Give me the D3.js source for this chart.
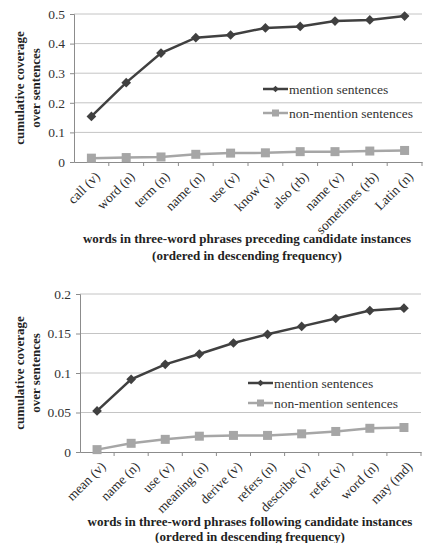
<!DOCTYPE html>
<html lang="en">
<head>
    <meta charset="UTF-8">
    <title>Cumulative coverage</title>
    <style>
        body { margin: 0; background: #fff; }
        text { font-family: "Liberation Serif", "DejaVu Serif", serif; }
    </style>
</head>
<body>
<script src="https://cdnjs.cloudflare.com/ajax/libs/d3/7.8.5/d3.min.js"></script>
<script>
    let w = 435, h = 543;

    // top panel: preceding words
    let preWords = ["call (v)", "word (n)", "term (n)", "name (n)", "use (v)", "know (v)",
        "also (rb)", "name (v)", "sometimes (rb)", "Latin (n)"];
    let preMention = [0.154, 0.268, 0.368, 0.420, 0.429, 0.453, 0.458, 0.476, 0.480, 0.493];
    let preNonMention = [0.013, 0.015, 0.017, 0.026, 0.030, 0.031, 0.035, 0.035, 0.037, 0.039];
    let preTicks = [0, 0.1, 0.2, 0.3, 0.4, 0.5];
    let preTitle = ["words in three-word phrases preceding candidate instances",
        "(ordered in descending frequency)"];

    // bottom panel: following words
    let folWords = ["mean (v)", "name (n)", "use (v)", "meaning (n)", "derive (v)", "refers (n)",
        "describe (v)", "refer (v)", "word (n)", "may (md)"];
    let folMention = [0.052, 0.092, 0.111, 0.124, 0.138, 0.149, 0.159, 0.169, 0.179, 0.182];
    let folNonMention = [0.003, 0.011, 0.016, 0.020, 0.021, 0.021, 0.023, 0.026, 0.030, 0.031];
    let folTicks = [0, 0.05, 0.1, 0.15, 0.2];
    let folTitle = ["words in three-word phrases following candidate instances",
        "(ordered in descending frequency)"];

    let seriesNames = ["mention sentences", "non-mention sentences"];

    let svg = d3.select("body")
        .append("svg")
        .attr("width", w)
        .attr("height", h);

    function panel(o) {
        let g = svg.append("g");

        let x = d3.scaleBand()
            .domain(o.words)
            .range([o.left, o.right])
            .padding(0);
        let y = d3.scaleLinear()
            .domain([0, o.max])
            .range([o.bottom, o.top]);
        let cx = d => x(d) + x.bandwidth() / 2;

        // gridlines
        g.selectAll(".grid")
            .data(o.ticks.slice(1))
            .enter()
            .append("line")
            .attr("x1", o.left)
            .attr("x2", o.right)
            .attr("y1", d => y(d))
            .attr("y2", d => y(d))
            .attr("stroke", "#c4c4c4")
            .attr("stroke-width", 1);

        // y axis
        let yAxis = g.append("g")
            .attr("transform", "translate(" + o.left + ",0)")
            .attr("font-family", "Liberation Serif")
            .call(d3.axisLeft(y).tickValues(o.ticks).tickSize(4).tickPadding(5)
                .tickFormat(d => d3.format("")(+d.toFixed(2))));
        yAxis.select(".domain").attr("stroke", "#8c8c8c");
        yAxis.selectAll(".tick line").attr("stroke", "#8c8c8c");
        yAxis.selectAll("text")
            .style("font-size", "13.5px")
            .style("font-family", "Liberation Serif")
            .attr("fill", "#333");

        // x axis
        let xAxis = g.append("g")
            .attr("transform", "translate(0," + o.bottom + ")")
            .call(d3.axisBottom(x).tickSize(0).tickFormat(""));
        xAxis.select(".domain").attr("stroke", "#8c8c8c");
        xAxis.selectAll(".bound")
            .data(o.words)
            .enter()
            .append("line")
            .attr("x1", d => x(d) + x.bandwidth())
            .attr("x2", d => x(d) + x.bandwidth())
            .attr("y1", 0)
            .attr("y2", 4)
            .attr("stroke", "#8c8c8c");

        g.selectAll(".xlab")
            .data(o.words)
            .enter()
            .append("text")
            .attr("transform", d => "translate(" + (cx(d) + 6) + "," + (o.bottom + 12) + ") rotate(-45)")
            .attr("text-anchor", "end")
            .attr("dy", "0.35em")
            .style("font-size", "13.5px")
            .attr("fill", "#2a2a2a")
            .text(d => d);

        // lines
        let line = d3.line()
            .x((d, i) => cx(o.words[i]))
            .y(d => y(d));

        g.append("path")
            .attr("d", line(o.non))
            .attr("fill", "none")
            .attr("stroke", "#a6a6a6")
            .attr("stroke-width", 2.5);
        g.selectAll(".sq")
            .data(o.non)
            .enter()
            .append("rect")
            .attr("x", (d, i) => cx(o.words[i]) - 4.5)
            .attr("y", d => y(d) - 4.5)
            .attr("width", 9)
            .attr("height", 9)
            .attr("fill", "#a6a6a6");

        g.append("path")
            .attr("d", line(o.mention))
            .attr("fill", "none")
            .attr("stroke", "#404040")
            .attr("stroke-width", 2.5);
        let diamond = d3.symbol().type(d3.symbolDiamond2).size(60);
        g.selectAll(".dm")
            .data(o.mention)
            .enter()
            .append("path")
            .attr("d", diamond)
            .attr("transform", (d, i) => "translate(" + cx(o.words[i]) + "," + y(d) + ")")
            .attr("fill", "#404040");

        // legend
        let lg = g.append("g");
        let legCol = ["#404040", "#a6a6a6"];
        seriesNames.forEach(function (s, i) {
            let ly = o.legY[i];
            lg.append("line")
                .attr("x1", o.legX)
                .attr("x2", o.legX + 25)
                .attr("y1", ly)
                .attr("y2", ly)
                .attr("stroke", legCol[i])
                .attr("stroke-width", 2.5);
            if (i === 0) {
                lg.append("path")
                    .attr("d", d3.symbol().type(d3.symbolDiamond2).size(28))
                    .attr("transform", "translate(" + (o.legX + 12.5) + "," + ly + ")")
                    .attr("fill", legCol[i]);
            } else {
                lg.append("rect")
                    .attr("x", o.legX + 9)
                    .attr("y", ly - 3.5)
                    .attr("width", 7)
                    .attr("height", 7)
                    .attr("fill", legCol[i]);
            }
            lg.append("text")
                .attr("x", o.legX + 26)
                .attr("y", ly)
                .attr("dy", "0.35em")
                .style("font-size", "13.5px")
                .attr("fill", "#333")
                .text(s);
        });

        // y title
        let ty = (o.top + o.bottom) / 2;
        g.append("text")
            .attr("transform", "translate(24," + ty + ") rotate(-90)")
            .attr("text-anchor", "middle")
            .style("font-size", "13px")
            .style("font-weight", "bold")
            .attr("fill", "#222")
            .text("cumulative  coverage");
        g.append("text")
            .attr("transform", "translate(40," + ty + ") rotate(-90)")
            .attr("text-anchor", "middle")
            .style("font-size", "13px")
            .style("font-weight", "bold")
            .attr("fill", "#222")
            .text("over  sentences");

        // x title
        o.title.forEach(function (t, i) {
            g.append("text")
                .attr("x", o.titleX)
                .attr("y", o.titleY + i * o.titleGap)
                .attr("text-anchor", "middle")
                .style("font-size", "13px")
                .style("font-weight", "bold")
                .attr("fill", "#222")
                .text(t);
        });
    }

    panel({
        words: preWords, mention: preMention, non: preNonMention, ticks: preTicks, max: 0.5,
        left: 74, right: 422, top: 14, bottom: 162,
        legX: 263, legY: [89, 113], title: preTitle, titleX: 247, titleY: 243, titleGap: 17
    });

    panel({
        words: folWords, mention: folMention, non: folNonMention, ticks: folTicks, max: 0.2,
        left: 80, right: 421, top: 294, bottom: 452,
        legX: 248, legY: [383, 403], title: folTitle, titleX: 250, titleY: 526, titleGap: 14.5
    });
</script>
</body>
</html>
